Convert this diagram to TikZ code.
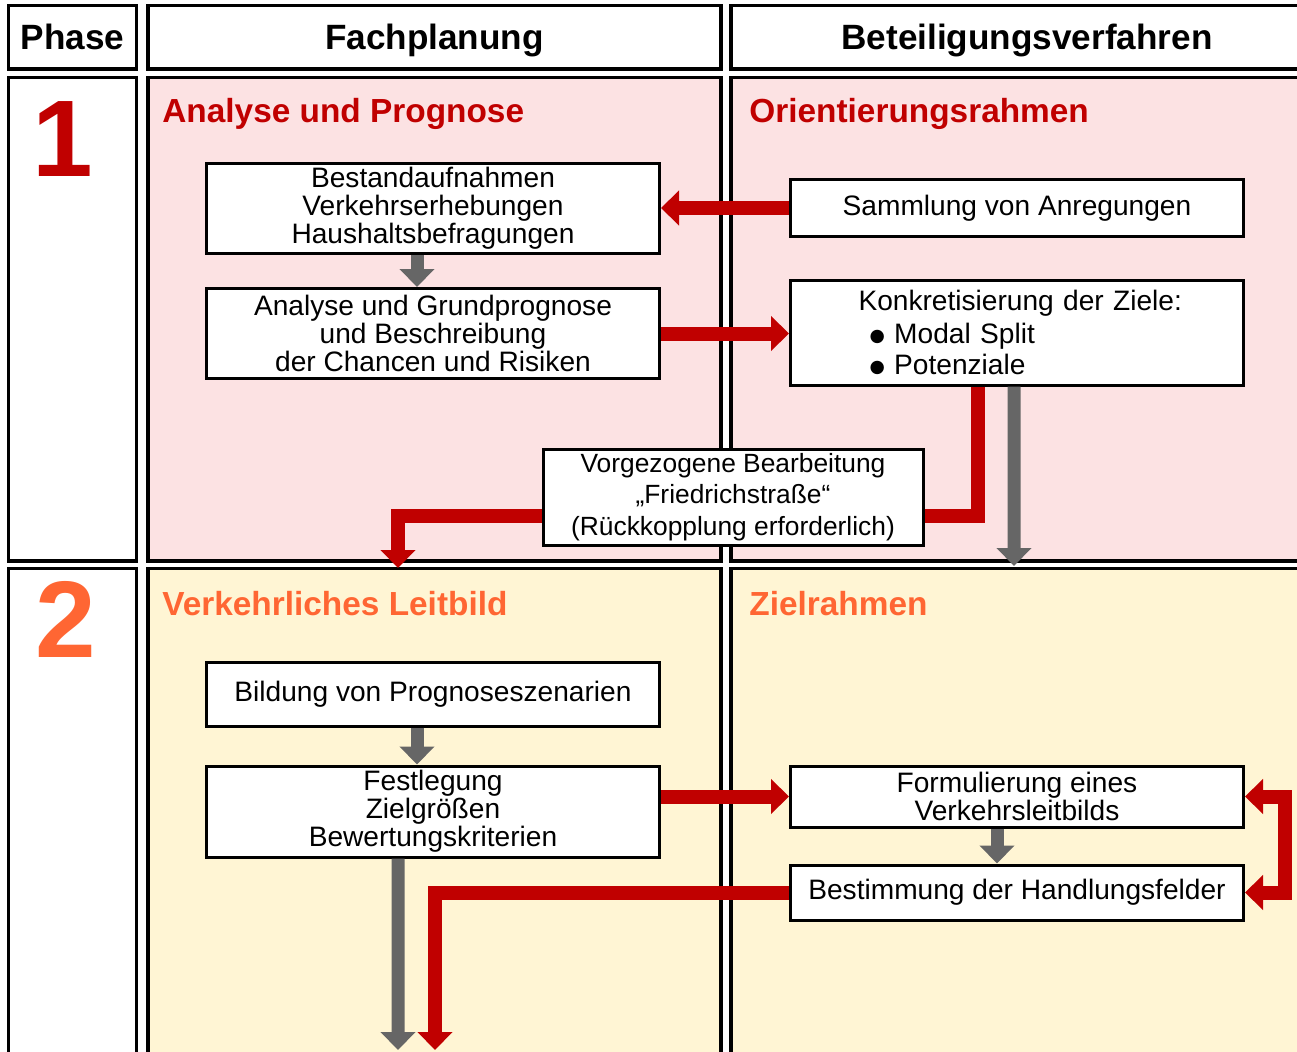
\documentclass[tikz,border=0pt]{standalone}
\usepackage{fontspec}
\setmainfont{Liberation Sans}
\newfontfamily\symfont{DejaVu Sans}
\usetikzlibrary{arrows.meta}

\definecolor{dbred}{RGB}{192,0,0}
\definecolor{dborange}{RGB}{255,102,51}
\definecolor{dbgray}{RGB}{102,102,102}
\definecolor{phaseonebg}{RGB}{252,226,227}
\definecolor{phasetwobg}{RGB}{255,245,212}

\newcommand{\bigdot}{\raisebox{0.3mm}{\symfont\fontsize{10}{12}\selectfont ●}}

\begin{document}
\begin{tikzpicture}[x=0.2mm, y=-0.2mm,
  cell/.style={draw=black, line width=0.7mm},
  head/.style={cell, font=\fontsize{20}{24}\selectfont\bfseries, text depth=0pt},
  title/.style={anchor=base west, inner sep=0pt, font=\fontsize{19}{23}\selectfont\bfseries},
  bignum/.style={inner sep=0pt, font=\fontsize{62}{70}\selectfont\bfseries},
  box/.style={draw=black, fill=white, line width=0.6mm, align=center, inner sep=0pt,
    minimum width=90.6mm, font=\fontsize{16}{16}\selectfont},
  flow/.style={line width=2.8mm, dbred},
  redarrow/.style={flow, -{Triangle[width=6.8mm, length=3.6mm]}},
  grayarrow/.style={line width=2.6mm, dbgray, -{Triangle[width=6.8mm, length=3.6mm]}}
]
  \useasboundingbox (0,0) rectangle (1297,1052);
  \clip (0,0) rectangle (1297,1052);

  % Header row
  \node[head, minimum width=25.6mm, minimum height=12.7mm] (phase) at (72.5,37.25) {Phase};
  \node[head, minimum width=114.6mm, minimum height=12.7mm] (fach) at (434.5,37.25) {Fachplanung};
  \node[head, minimum width=118.4mm, minimum height=12.7mm] (beteil) at (1027,37.25) {Beteiligungsverfahren};

  % Phase 1
  \draw[cell] (8.5,77.5) rectangle (136.5,561);
  \draw[cell, fill=phaseonebg] (148,77.5) rectangle (721,561);
  \draw[cell, fill=phaseonebg] (731,77.5) rectangle (1323,561);
  \node[bignum, dbred] (one) at (63,139) {1};
  \node[title, dbred] (analysetitle) at (162,122) {Analyse und Prognose};
  \node[title, dbred] (orienttitle) at (749,122) {Orientierungsrahmen};

  % Phase 2
  \draw[cell] (8.5,568.5) rectangle (136.5,1080);
  \draw[cell, fill=phasetwobg] (148,568.5) rectangle (721,1080);
  \draw[cell, fill=phasetwobg] (731,568.5) rectangle (1323,1080);
  \node[bignum, dborange] (two) at (66,619) {2};
  \node[title, dborange] (leitbildtitle) at (162,615) {Verkehrliches Leitbild};
  \node[title, dborange] (zieltitle) at (749,615) {Zielrahmen};

  % Boxes phase 1
  \node[box, minimum height=18mm] (bestand) at (433,208.5)
    {Bestandaufnahmen\\Verkehrserhebungen\\Haushaltsbefragungen};
  \node[box, minimum height=18mm] (analyse) at (433,333.5)
    {Analyse und Grundprognose\\und Beschreibung\\der Chancen und Risiken};
  \node[box, minimum height=11.3mm] (sammlung) at (1017,208) {Sammlung von Anregungen};
  \node[box, text width=90.6mm, align=left, minimum height=21mm] (ziele) at (1017,332.5)
    {\hspace*{13.6mm}Konkretisierung der Ziele:\\[1mm]
     \hspace*{15.8mm}\bigdot\ Modal Split\\[0.6mm]
     \hspace*{15.8mm}\bigdot\ Potenziale};
  \node[box, minimum width=76mm, minimum height=19.2mm, font=\fontsize{15}{18}\selectfont] (vorg) at (733,497)
    {Vorgezogene Bearbeitung\\„Friedrichstraße“\\(Rückkopplung erforderlich)};

  % Boxes phase 2
  \node[box, minimum height=12.8mm] (bildung) at (433,694) {Bildung von Prognoseszenarien};
  \node[box, minimum height=18.2mm] (fest) at (433,811.5)
    {Festlegung\\Zielgrößen\\Bewertungskriterien};
  \node[box, minimum height=12.2mm] (formul) at (1017,796.5)
    {Formulierung eines\\Verkehrsleitbilds};
  \node[box, minimum height=11mm] (bestimm) at (1017,892.5) {Bestimmung der Handlungsfelder};

  % Arrow ends
  \coordinate (redtipone) at (398,568);
  \coordinate (graytipone) at (1014,566);
  \coordinate (redtiptwo) at (435,1050);
  \coordinate (graytiptwo) at (398,1050);

  % Connectors phase 1
  \draw[grayarrow] ([xshift=-3.2mm]bestand.south) -- ([xshift=-3.2mm]analyse.north);
  \draw[redarrow] (sammlung.west) -- (sammlung.west -| bestand.east);
  \draw[redarrow] (analyse.east) -- (analyse.east -| ziele.west);
  \draw[flow] ([xshift=-7.8mm]ziele.south) |- ([yshift=-3.8mm]vorg.east);
  \draw[grayarrow] ([xshift=-0.6mm]ziele.south) -- (graytipone);
  \draw[redarrow] ([yshift=-3.8mm]vorg.west) -| (redtipone);

  % Connectors phase 2
  \draw[grayarrow] ([xshift=-3.2mm]bildung.south) -- ([xshift=-3.2mm]fest.north);
  \draw[redarrow] (fest.east |- formul.west) -- (formul.west);
  \draw[grayarrow] ([xshift=-4mm]formul.south) -- ([xshift=-4mm]bestimm.north);
  \draw[flow, {Triangle[width=6.8mm, length=3.6mm]}-{Triangle[width=6.8mm, length=3.6mm]}]
    (formul.east) -- ++(40,0) |- (bestimm.east);
  \draw[redarrow] (bestimm.west) -| (redtiptwo);
  \draw[grayarrow] ([xshift=-7mm]fest.south) -- (graytiptwo);
\end{tikzpicture}
\end{document}
